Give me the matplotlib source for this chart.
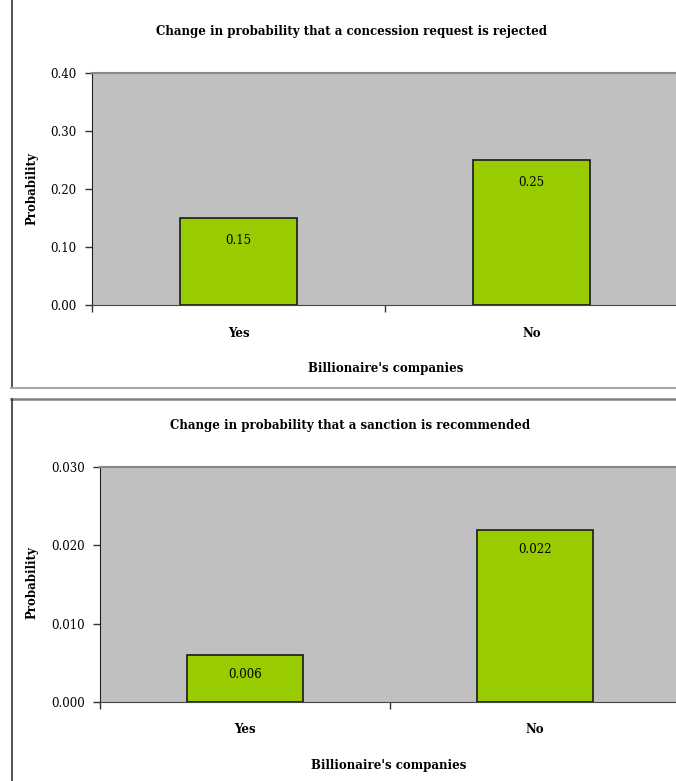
import matplotlib.pyplot as plt
from matplotlib.lines import Line2D

plt.rcParams["font.family"] = ["DejaVu Serif"]

W, H = 676, 781
FS = 8.5

categories = ["Yes", "No"]
rejected = [0.15, 0.25]
sanction = [0.006, 0.022]
rejected_labels = ["0.15", "0.25"]
sanction_labels = ["0.006", "0.022"]

fig = plt.figure(figsize=(W / 100, H / 100), dpi=100)


def px_axes(left, top, right, bottom):
    return fig.add_axes([left / W, 1 - bottom / H, (right - left) / W, (bottom - top) / H])


def draw_panel(ax, values, labels, ymax, yticks, fmt, offset, cat_pad):
    x = range(len(values))
    ax.set_facecolor("#c0c0c0")
    ax.bar(x, values, width=0.4, color="#99cc00", edgecolor="#1a1a1a", linewidth=1.2, zorder=3)
    for xi, v, lab in zip(x, values, labels):
        ax.annotate(lab, (xi, v), xytext=(0, -offset), textcoords="offset pixels",
                    ha="center", va="center", fontsize=FS, zorder=4)
    ax.set_xlim(-0.5, 1.5)
    ax.set_ylim(0, ymax)
    ax.set_yticks(yticks)
    ax.set_yticklabels([fmt.format(t) for t in yticks])
    ax.set_xticks([-0.5, 0.5, 1.5])
    ax.set_xticklabels([])
    ax.set_xticks([0, 1], minor=True)
    ax.set_xticklabels(categories, minor=True, fontweight="bold")
    ax.tick_params(axis="x", which="minor", length=0, pad=cat_pad, labelsize=FS)
    ax.tick_params(axis="x", which="major", length=5, width=1, color="#333333")
    ax.tick_params(axis="y", length=5, width=1, color="#333333", labelsize=FS, pad=6)
    ax.spines["left"].set_color("#222222")
    ax.spines["bottom"].set_color("#444444")
    ax.spines["top"].set_color("#888888")
    ax.spines["top"].set_linewidth(1.5)
    ax.spines["right"].set_visible(False)


ax1 = px_axes(92, 73, 678, 305)
draw_panel(ax1, rejected, rejected_labels, 0.40, [0, 0.1, 0.2, 0.3, 0.4], "{:.2f}", 23, 16)
fig.text(351 / W, 1 - 31 / H, "Change in probability that a concession request is rejected",
         ha="center", va="center", fontsize=FS, fontweight="bold")
fig.text(32 / W, 1 - 189 / H, "Probability", rotation=90, ha="center", va="center",
         fontsize=FS, fontweight="bold")
fig.text(386 / W, 1 - 368 / H, "Billionaire's companies", ha="center", va="center",
         fontsize=FS, fontweight="bold")

ax2 = px_axes(100, 467, 680, 702)
draw_panel(ax2, sanction, sanction_labels, 0.030, [0, 0.01, 0.02, 0.03], "{:.3f}", 20, 15)
fig.text(350 / W, 1 - 426 / H, "Change in probability that a sanction is recommended",
         ha="center", va="center", fontsize=FS, fontweight="bold")
fig.text(32 / W, 1 - 583 / H, "Probability", rotation=90, ha="center", va="center",
         fontsize=FS, fontweight="bold")
fig.text(389 / W, 1 - 765 / H, "Billionaire's companies", ha="center", va="center",
         fontsize=FS, fontweight="bold")


# panel frames
def frame_line(x0, y0, x1, y1, color, lw):
    fig.add_artist(Line2D([x0 / W, x1 / W], [1 - y0 / H, 1 - y1 / H], color=color, lw=lw,
                          transform=fig.transFigure))


frame_line(11.5, 0, 11.5, 388, "#333333", 1.2)
frame_line(11, 388, W, 388, "#a8a8a8", 1.5)
frame_line(11, 399, W, 399, "#808080", 1.8)
frame_line(11.5, 399, 11.5, H, "#333333", 1.2)

fig.savefig("out.png", dpi=100)
